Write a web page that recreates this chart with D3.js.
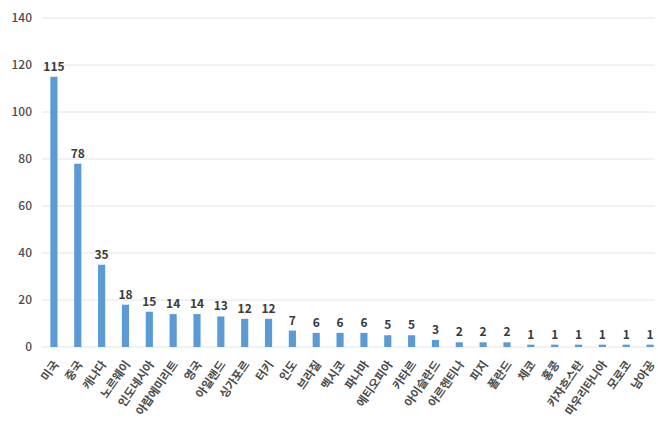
<!DOCTYPE html>
<html><head><meta charset="utf-8">
<script src="https://cdn.jsdelivr.net/npm/d3@7"></script>
<style>body{margin:0;background:#fff;}svg{display:block;}</style>
</head><body>
<svg id="c" width="658" height="426"></svg>
<script>
const categories = ["미국","중국","캐나다","노르웨이","인도네시아","아랍에미리트","영국","아일랜드","싱가포르","터키","인도","브라질","멕시코","파나마","에티오피아","카타르","아이슬란드","아르헨티나","피지","폴란드","체코","홍콩","카자흐스탄","마우리타니아","모로코","남아공"];
const values = [115,78,35,18,15,14,14,13,12,12,7,6,6,6,5,5,3,2,2,2,1,1,1,1,1,1];
const yTicks = [0,20,40,60,80,100,120,140];

const svg = d3.select("#c");
const font = "'Noto Sans CJK KR','Noto Sans',sans-serif";
const x = d3.scaleBand().domain(categories).range([42, 662]).paddingInner(0.7).paddingOuter(0.35);
const y = d3.scaleLinear().domain([0,140]).range([347, 18]);

svg.append("g").selectAll("line").data(yTicks).join("line")
  .attr("x1", 42).attr("x2", 655)
  .attr("y1", d=>y(d)).attr("y2", d=>y(d))
  .attr("stroke", "#e4e4e4").attr("stroke-width", 1);

const ya = svg.append("g").attr("transform","translate(32,0)")
  .call(d3.axisLeft(y).tickValues(yTicks).tickSize(0).tickPadding(0));
ya.select(".domain").remove();
ya.selectAll("text").attr("font-family", font).attr("font-size", 12).attr("fill", "#4a4a4a").attr("font-weight", 500);

svg.append("g").selectAll("rect").data(values).join("rect")
  .attr("x", (d,i)=>x(categories[i]))
  .attr("width", x.bandwidth())
  .attr("y", d=>y(d))
  .attr("height", d=>y(0)-y(d))
  .attr("fill", "#5b9bd5");

svg.append("g").selectAll("text").data(values).join("text")
  .attr("x", (d,i)=>x(categories[i]) + x.bandwidth()/2)
  .attr("y", d=>y(d)-6)
  .attr("text-anchor","middle")
  .attr("font-family", font).attr("font-size", 12).attr("font-weight", "bold")
  .attr("fill", "#3a3a3a")
  .text(d=>d);

svg.append("g").selectAll("text").data(categories).join("text")
  .attr("transform", d=>`translate(${x(d)+x.bandwidth()/2+2},${362}) rotate(-55)`)
  .attr("text-anchor","end")
  .attr("dy","0.35em")
  .attr("font-family", font).attr("font-size", 11.5).attr("font-weight", "bold")
  .attr("fill", "#4a4a4a")
  .text(d=>d);
</script>
</body></html>
